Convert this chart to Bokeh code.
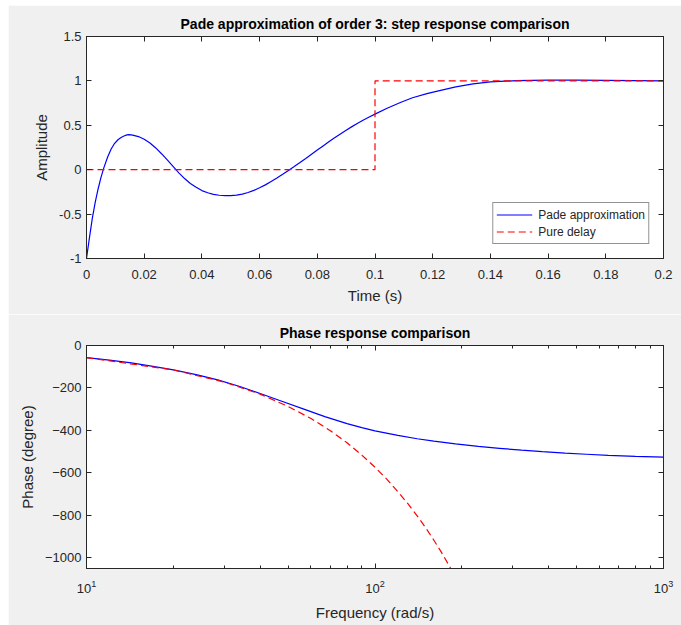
from bokeh.plotting import figure
from bokeh.layouts import column
from bokeh.models import (FixedTicker, LinearAxis, LogAxis, Legend, LegendItem, Range1d,
                          LogTickFormatter)
from bokeh.embed import file_html
from bokeh.resources import INLINE

# ---------------- data ----------------
step_t = [0.0, 0.001, 0.002, 0.003, 0.004, 0.005, 0.006, 0.0073, 0.0085, 0.0096,
          0.011, 0.012, 0.013, 0.014, 0.0148, 0.016, 0.018, 0.020, 0.022, 0.024,
          0.026, 0.028, 0.030, 0.031, 0.032, 0.034, 0.036, 0.038, 0.040, 0.042,
          0.044, 0.046, 0.048, 0.050, 0.052, 0.054, 0.056, 0.058, 0.060, 0.062,
          0.064, 0.066, 0.068, 0.070, 0.072, 0.074, 0.076, 0.078, 0.080, 0.082,
          0.084, 0.086, 0.088, 0.090, 0.092, 0.094, 0.096, 0.098, 0.100, 0.104,
          0.109, 0.113, 0.118, 0.122, 0.128, 0.134, 0.14, 0.149, 0.16, 0.17,
          0.18, 0.19, 0.2]
step_pade = [-1.0, -0.77, -0.55, -0.37, -0.22, -0.09, 0.02, 0.14, 0.23, 0.29,
             0.34, 0.362, 0.380, 0.392, 0.395, 0.390, 0.373, 0.343, 0.300, 0.245,
             0.180, 0.110, 0.037, 0.0, -0.035, -0.100, -0.155, -0.198, -0.235, -0.260,
             -0.277, -0.288, -0.293, -0.292, -0.287, -0.275, -0.257, -0.233, -0.204, -0.171,
             -0.134, -0.094, -0.052, -0.008, 0.036, 0.081, 0.127, 0.174, 0.221, 0.268,
             0.314, 0.359, 0.403, 0.445, 0.485, 0.523, 0.559, 0.593, 0.626, 0.69,
             0.76, 0.81, 0.857, 0.888, 0.933, 0.966, 0.988, 1.003, 1.009, 1.009,
             1.006, 1.003, 1.001]
delay_t = [0.0, 0.1, 0.1, 0.2]
delay_y = [0.0, 0.0, 1.0, 1.0]

pade_w = [10, 12, 14.3, 17, 20, 24, 28.5, 34, 40, 47, 57, 67, 80, 90, 100, 120, 140,
          160, 190, 228, 270, 322, 380, 456, 540, 644, 800, 1000]
pade_phase = [-57, -69, -82, -98, -115, -137, -162, -193, -226, -260, -301, -335, -368,
              -387, -402, -423, -439, -450, -463, -475, -484, -493, -500, -507, -512,
              -517, -522, -526]
delay_w = [10, 20, 30, 40, 50, 60, 70, 80, 90, 100, 110, 120, 130, 140, 150, 160, 170, 183]
delay_phase = [-57, -115, -172, -229, -287, -344, -401, -458, -516, -573, -630, -688,
               -745, -802, -859, -917, -974, -1050]

x_ticks_top = [0.0, 0.02, 0.04, 0.06, 0.08, 0.1, 0.12, 0.14, 0.16, 0.18, 0.2]
x_labels_top = ["0", "0.02", "0.04", "0.06", "0.08", "0.1", "0.12", "0.14", "0.16", "0.18", "0.2"]
y_ticks_top = [-1.0, -0.5, 0.0, 0.5, 1.0, 1.5]
y_labels_top = ["-1", "-0.5", "0", "0.5", "1", "1.5"]
y_ticks_bot = [-1000, -800, -600, -400, -200, 0]
w_ticks = [10, 100, 1000]
w_minor = [20, 30, 40, 50, 60, 70, 80, 90, 200, 300, 400, 500, 600, 700, 800, 900]

# ---------------- styling ----------------
FONT = "Liberation Sans"
AX = "#262626"
BG = "#f0f0f0"
BLUE = "#0000ff"
RED = "#ff0000"


def style_axis(ax, show_labels=True):
    ax.axis_line_color = AX
    ax.major_tick_line_color = AX
    ax.major_tick_in = 5
    ax.major_tick_out = 0
    ax.minor_tick_line_color = None
    ax.major_label_text_font = FONT
    ax.major_label_text_font_size = "13px"
    ax.major_label_text_color = AX
    ax.axis_label_text_font = FONT
    ax.axis_label_text_font_size = "15px"
    ax.axis_label_text_font_style = "normal"
    ax.axis_label_text_color = AX
    if not show_labels:
        ax.major_label_text_color = None
        ax.major_label_text_font_size = "1px"
        ax.major_label_standoff = 0


def base_fig(height, top, bottom, **kw):
    p = figure(width=673, height=height, output_backend="svg", toolbar_location=None,
               min_border_left=78, min_border_right=18, min_border_top=top,
               min_border_bottom=bottom, background_fill_color="white",
               border_fill_color=BG, **kw)
    p.outline_line_color = AX
    p.xgrid.visible = False
    p.ygrid.visible = False
    p.title.align = "center"
    p.title.text_font = FONT
    p.title.text_font_size = "14px"
    p.title.text_font_style = "bold"
    p.title.text_color = "#000000"
    return p


# ---------------- top: step response ----------------
p1 = base_fig(309, 31, 56, x_range=Range1d(0, 0.2), y_range=Range1d(-1, 1.5),
              title="Pade approximation of order 3: step response comparison")
r_pade = p1.line(step_t, step_pade, line_color=BLUE, line_width=1.2)
r_delay = p1.line(delay_t, delay_y, line_color=RED, line_width=1.2, line_dash="7 4")

p1.xaxis.ticker = FixedTicker(ticks=x_ticks_top)
p1.xaxis.major_label_overrides = dict(zip(x_ticks_top, x_labels_top))
p1.yaxis.ticker = FixedTicker(ticks=y_ticks_top)
p1.yaxis.major_label_overrides = dict(zip(y_ticks_top, y_labels_top))
p1.xaxis.axis_label = "Time (s)"
p1.yaxis.axis_label = "Amplitude"
for ax in p1.xaxis + p1.yaxis:
    style_axis(ax)
p1.xaxis.major_label_standoff = 11
p1.xaxis.axis_label_standoff = 5
p1.yaxis.axis_label_standoff = 6

top_ax = LinearAxis(ticker=FixedTicker(ticks=x_ticks_top))
style_axis(top_ax, show_labels=False)
p1.add_layout(top_ax, "above")
right_ax = LinearAxis(ticker=FixedTicker(ticks=y_ticks_top))
style_axis(right_ax, show_labels=False)
p1.add_layout(right_ax, "right")

legend = Legend(items=[LegendItem(label="Pade approximation", renderers=[r_pade]),
                       LegendItem(label="Pure delay", renderers=[r_delay])],
                location="bottom_right")
legend.margin = 14
legend.padding = 3
legend.spacing = 0
legend.label_height = 17
legend.glyph_height = 17
legend.glyph_width = 36
legend.label_standoff = 6
legend.label_text_font = FONT
legend.label_text_font_size = "12px"
legend.label_text_color = AX
legend.border_line_color = AX
legend.border_line_width = 1
legend.background_fill_color = "white"
legend.background_fill_alpha = 1.0
p1.add_layout(legend, "center")

# ---------------- bottom: phase response ----------------
p2 = base_fig(311, 31, 57, x_axis_type="log", x_range=Range1d(10, 1000),
              y_range=Range1d(-1050, 0), title="Phase response comparison")
p2.line(pade_w, pade_phase, line_color=BLUE, line_width=1.2)
p2.line(delay_w, delay_phase, line_color=RED, line_width=1.2, line_dash="7 4")

p2.xaxis.ticker = FixedTicker(ticks=w_ticks, minor_ticks=w_minor)
p2.xaxis.formatter = LogTickFormatter()
p2.yaxis.ticker = FixedTicker(ticks=y_ticks_bot)
p2.xaxis.axis_label = "Frequency (rad/s)"
p2.yaxis.axis_label = "Phase (degree)"
for ax in p2.xaxis + p2.yaxis:
    style_axis(ax)
p2.xaxis.minor_tick_line_color = AX
p2.xaxis.minor_tick_in = 3
p2.xaxis.minor_tick_out = 0
p2.xaxis.major_label_standoff = 11
p2.xaxis.axis_label_standoff = 8
p2.yaxis.axis_label_standoff = 6

top_ax2 = LogAxis(ticker=FixedTicker(ticks=w_ticks, minor_ticks=w_minor))
style_axis(top_ax2, show_labels=False)
top_ax2.minor_tick_line_color = AX
top_ax2.minor_tick_in = 3
top_ax2.minor_tick_out = 0
p2.add_layout(top_ax2, "above")
right_ax2 = LinearAxis(ticker=FixedTicker(ticks=y_ticks_bot))
style_axis(right_ax2, show_labels=False)
p2.add_layout(right_ax2, "right")

layout = column(p1, p2, spacing=0, margin=(5, 0, 0, 8))
open("out.html", "w").write(file_html(layout, INLINE))
